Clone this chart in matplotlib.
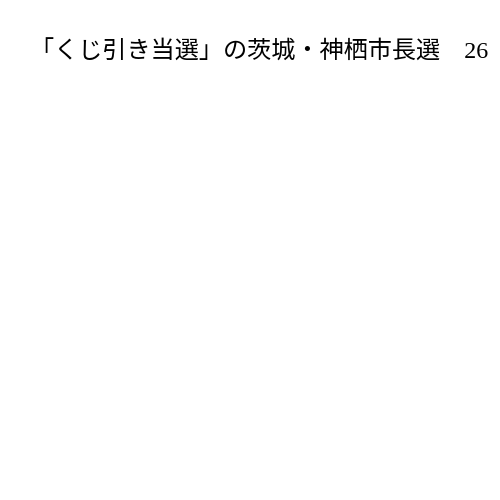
import matplotlib
matplotlib.use("Agg")
import matplotlib.pyplot as plt

title_text = "「くじ引き当選」の茨城・神栖市長選　26"

fig = plt.figure(figsize=(5, 5), dpi=100)
fig.patch.set_facecolor("white")
fig.text(0.059, 0.896, title_text, fontsize=17.4, ha="left", va="center",
         family=["Liberation Serif", "Noto Sans CJK JP", "DejaVu Sans"], color="black")
fig.savefig("out.png", dpi=100, facecolor="white")
